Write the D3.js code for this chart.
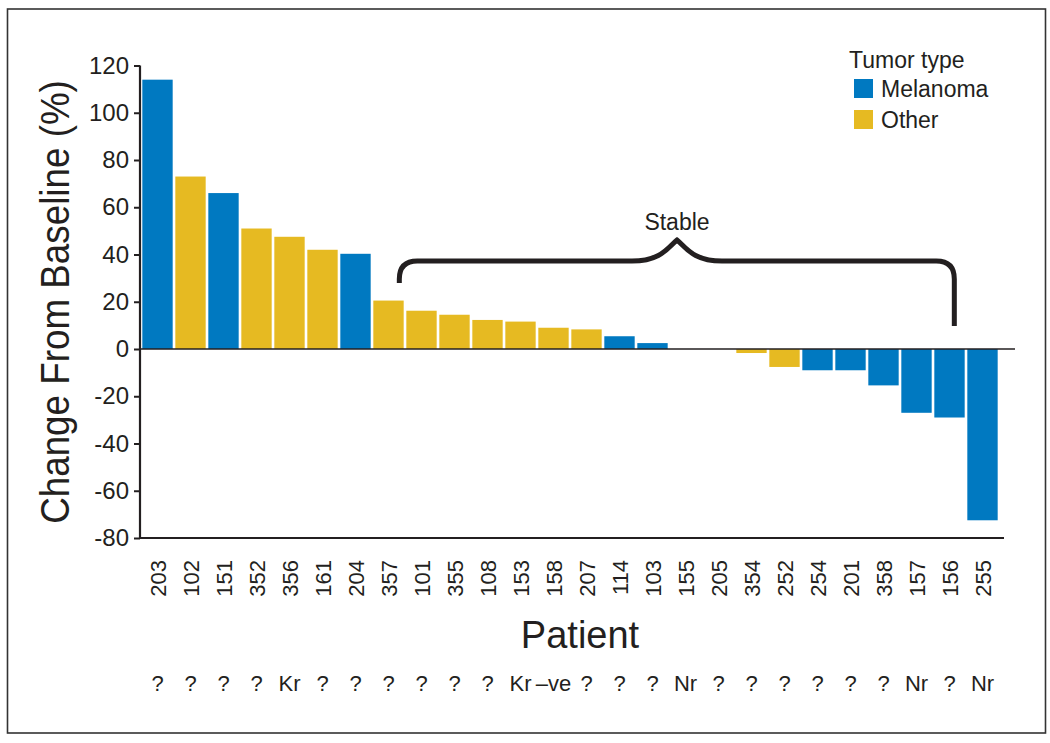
<!DOCTYPE html>
<html><head><meta charset="utf-8">
<script src="https://cdn.jsdelivr.net/npm/d3@7"></script>
<style>
html,body{margin:0;padding:0;background:#fff;}
text{font-family:"Liberation Sans Narrow","Arial Narrow","Liberation Sans",sans-serif;fill:#231f20;}
</style></head>
<body>
<svg id="chart" width="1050" height="743"></svg>
<script>
const patients = ["203","102","151","352","356","161","204","357","101","355","108","153","158","207","114","103","155","205","354","252","254","201","358","157","156","255"];
const changes  = [114,73,66,51,47.5,42,40.3,20.5,16.2,14.5,12.3,11.6,9,8.3,5.4,2.5,0,0,-1.7,-7.6,-9,-9,-15.4,-27,-29,-72.5];
const tumorTypes = ["Melanoma","Other","Melanoma","Other","Other","Other","Melanoma","Other","Other","Other","Other","Other","Other","Other","Melanoma","Melanoma","Melanoma","Melanoma","Other","Other","Melanoma","Melanoma","Melanoma","Melanoma","Melanoma","Melanoma"];
const mutationLabels = ["?","?","?","?","Kr","?","?","?","?","?","?","Kr","–ve","?","?","?","Nr","?","?","?","?","?","?","Nr","?","Nr"];
const yTicks = [120,100,80,60,40,20,0,-20,-40,-60,-80];
const legendTypes = ["Melanoma","Other"];
const typeColors = ["#0079c1","#e6ba22"];

const svg = d3.select("#chart");
// outer frame
svg.append("rect").attr("x",7.5).attr("y",9).attr("width",1038).attr("height",724)
  .attr("fill","none").attr("stroke","#333").attr("stroke-width",1.6);

const x = d3.scaleBand().domain(patients).range([141,999]).paddingInner(0.08).paddingOuter(0.04);
const y = d3.scaleLinear().domain([-80,120]).range([538,65.5]);
const color = d3.scaleOrdinal().domain(legendTypes).range(typeColors);

const data = patients.map((p,i)=>({p, v:changes[i], t:tumorTypes[i], m:mutationLabels[i]}));

// bars
svg.append("g").selectAll("rect").data(data.filter(d=>d.v!==0)).join("rect")
  .attr("x",d=>x(d.p)).attr("width",x.bandwidth())
  .attr("y",d=>y(Math.max(0,d.v))).attr("height",d=>Math.abs(y(d.v)-y(0)))
  .attr("fill",d=>color(d.t));

// zero line
svg.append("line").attr("x1",140).attr("x2",1015).attr("y1",y(0)).attr("y2",y(0))
  .attr("stroke","#231f20").attr("stroke-width",1.6);

// y axis
const yAxis = d3.axisLeft(y).tickValues(yTicks).tickSize(6).tickPadding(5).tickFormat(d=>String(d));
const ga = svg.append("g").attr("transform","translate(140,0)").call(yAxis);
ga.select(".domain").attr("stroke","#231f20").attr("stroke-width",2.2).attr("d","M0,"+y(120)+"V"+y(-80));
ga.selectAll(".tick line").attr("stroke","#231f20").attr("stroke-width",2);
ga.selectAll(".tick text").attr("font-size",24).attr("fill","#231f20")
  .style("font-family","'Liberation Sans Narrow','Arial Narrow',sans-serif");

// bottom axis line
svg.append("line").attr("x1",139).attr("x2",1004).attr("y1",y(-80)).attr("y2",y(-80))
  .attr("stroke","#231f20").attr("stroke-width",2.2);

// x labels (rotated)
svg.append("g").selectAll("text").data(patients).join("text")
  .attr("transform",d=>`translate(${x(d)+x.bandwidth()/2+8},560) rotate(-90)`)
  .attr("text-anchor","end").attr("font-size",22).text(d=>d);

// mutation labels
svg.append("g").selectAll("text").data(data).join("text")
  .attr("x",d=>x(d.p)+x.bandwidth()/2).attr("y",691)
  .attr("text-anchor","middle").attr("font-size",22).text(d=>d.m);

// axis titles
svg.append("text").attr("x",580).attr("y",648).attr("text-anchor","middle")
  .attr("font-size",38).text("Patient");
svg.append("text").attr("transform","translate(69,302) rotate(-90) scale(0.92,1)").attr("text-anchor","middle")
  .attr("font-size",40).text("Change From Baseline (%)");

// Stable bracket
const xl = x("101") - 7, xr = x("156") + 20;
const xm = 677, yb = 261, ytip = 240, ylo = 283, yro = 326, r = 18;
const path = `M${xl},${ylo} V${yb+r} Q${xl},${yb} ${xl+r},${yb} H${xm-45} C${xm-15},${yb} ${xm-8},${ytip+6} ${xm},${ytip}
 C${xm+8},${ytip+6} ${xm+15},${yb} ${xm+45},${yb} H${xr-r} Q${xr},${yb} ${xr},${yb+r} V${yro}`;
svg.append("path").attr("d",path).attr("fill","none").attr("stroke","#231f20").attr("stroke-width",5);
svg.append("text").attr("x",xm).attr("y",230).attr("text-anchor","middle")
  .attr("font-size",23).style("font-family","'Liberation Sans','DejaVu Sans',sans-serif").text("Stable");

// legend
const lg = svg.append("g");
lg.append("text").attr("x",849).attr("y",68).attr("font-size",23)
  .style("font-family","'Liberation Sans',sans-serif").text("Tumor type");
legendTypes.forEach((t,i)=>{
  lg.append("rect").attr("x",854).attr("y",79+i*31).attr("width",19).attr("height",19).attr("fill",color(t));
  lg.append("text").attr("x",881).attr("y",97+i*31).attr("font-size",23)
    .style("font-family","'Liberation Sans',sans-serif").text(t);
});
</script>
</body></html>
